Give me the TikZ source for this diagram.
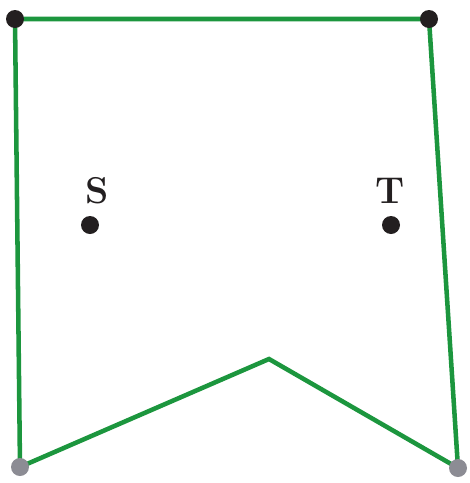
\documentclass[tikz,border=0pt]{standalone}
\usetikzlibrary{positioning}
\definecolor{edgegreen}{RGB}{28,150,62}
\definecolor{vtxgray}{RGB}{140,140,148}
\definecolor{vtxblack}{RGB}{35,31,32}

\begin{document}
\begin{tikzpicture}[
  x=0.75pt, y=-0.75pt,
  edge/.style={draw=edgegreen, line width=3.4pt, line join=miter},
  vtx/.style={circle, fill=vtxblack, inner sep=0pt, minimum size=13.5pt},
  gvtx/.style={vtx, fill=vtxgray},
  lbl/.style={font=\fontsize{28}{32}\selectfont\bfseries, text=vtxblack, inner sep=0pt}
]
\useasboundingbox (0,0) rectangle (469,483);

% polygon corners
\coordinate (tl) at (15,19);
\coordinate (tr) at (429,19);
\coordinate (br) at (458,468);
\coordinate (ap) at (269,359);
\coordinate (bl) at (20,467);

\draw[edge] (tl) -- (tr) -- (br) -- (ap) -- (bl) -- cycle;

% vertices
\node[vtx] (v1) at (tl) {};
\node[vtx] (v2) at (tr) {};
\node[gvtx] (v3) at (br) {};
\node[gvtx] (v5) at (bl) {};

% inner points
\node[vtx] (s) at (90,225) {};
\node[vtx] (t) at (391,225) {};
\node[lbl] (sl) at (97,191) {S};
\node[lbl] (tl2) at (390,191) {T};
\end{tikzpicture}
\end{document}
